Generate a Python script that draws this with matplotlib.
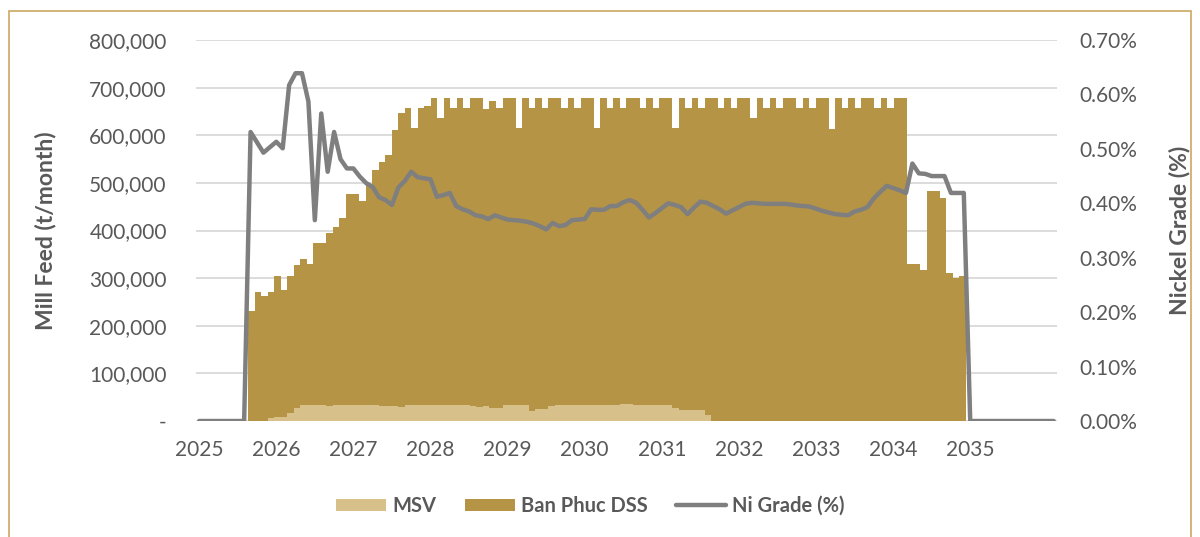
import numpy as np
import matplotlib.pyplot as plt
from matplotlib.patches import Rectangle
from matplotlib.ticker import FuncFormatter

plt.rcParams['font.family'] = ['Lato', 'DejaVu Sans']

# bars sit on a monthly category axis Jan 2025 - Dec 2035 (132 slots)
n_bar_slots = 132
bar_slots = np.arange(8, 118)  # Sep 2025 .. Oct 2034

# total mill feed per month, kt
total_kt = [231, 270, 262, 270, 305, 275, 305, 328, 340, 329, 373, 373, 394, 408,
            427, 476, 476, 461, 497, 527, 543, 559, 611, 646, 658, 615, 658, 662,
            678, 636,
            678, 658, 678, 658, 678, 678, 655, 672, 658, 678, 678, 615,
            678, 658, 678, 658, 678, 678, 658, 678, 658, 678, 678, 615,
            678, 658, 678, 658, 678, 678, 658, 678, 658, 678, 678, 615,
            678, 658, 678, 658, 678, 678, 658, 678, 658, 678, 678, 636,
            678, 658, 678, 658, 678, 678, 658, 678, 658, 678, 678, 613,
            678, 658, 678, 658, 678, 678, 658, 678, 658, 678, 678,
            329, 329, 317, 482, 482, 468, 310, 300, 305]

# MSV part of the feed, kt
msv_kt = [0, 0, 0, 7, 9, 9, 16, 27, 34, 34, 34, 34, 32, 34, 34, 34, 34, 34, 34, 34,
          32, 32, 32, 29, 34, 34, 34, 34, 34, 34, 34, 34, 34, 34, 31, 29, 31, 28, 28, 33,
          33, 33, 34, 20, 25, 25, 31, 34, 34, 34, 34, 34, 34, 34, 34, 34, 34, 35, 35, 34,
          34, 34, 34, 34, 34, 28, 23, 23, 23, 23, 13,
          0, 0, 0, 0, 0, 0, 0, 0, 0, 0, 0, 0, 0, 0, 0, 0, 0, 0, 0, 0,
          0, 0, 0, 0, 0, 0, 0, 0, 0, 0, 0, 0, 0, 0, 0, 0, 0, 0, 0]

# line sits on its own category axis Jan 2025 - Feb 2036 (134 points)
ni_grade = [0.0] * 8 + [
    0.531, 0.512, 0.493, 0.503, 0.513, 0.501, 0.617, 0.639, 0.639, 0.587,
    0.369, 0.565, 0.458, 0.531, 0.481, 0.464, 0.464, 0.449, 0.437, 0.430,
    0.411, 0.406, 0.397, 0.429, 0.441, 0.458, 0.448, 0.446, 0.444, 0.412,
    0.415, 0.419, 0.395, 0.389, 0.385, 0.378, 0.376, 0.371, 0.378, 0.374,
    0.370, 0.369, 0.368, 0.366, 0.363, 0.358, 0.352, 0.364, 0.358, 0.360,
    0.369, 0.370, 0.371, 0.389, 0.388, 0.388, 0.395, 0.395, 0.402, 0.406,
    0.401, 0.388, 0.374, 0.382, 0.391, 0.400, 0.397, 0.393, 0.380, 0.392,
    0.403, 0.401, 0.395, 0.389, 0.381, 0.387, 0.393, 0.399, 0.401, 0.400,
    0.399, 0.399, 0.399, 0.399, 0.398, 0.396, 0.395, 0.394, 0.390, 0.386,
    0.383, 0.380, 0.379, 0.378, 0.385, 0.388, 0.393, 0.409, 0.421, 0.432,
    0.428, 0.424, 0.419, 0.473, 0.455, 0.454, 0.450, 0.450, 0.450, 0.419,
    0.419, 0.419] + [0.0] * 14

year_labels = ['2025', '2026', '2027', '2028', '2029', '2030',
               '2031', '2032', '2033', '2034', '2035']
year_idx = [0, 12, 24, 36, 48, 60, 72, 84, 96, 108, 120]

total = np.array(total_kt) * 1000
msv = np.array(msv_kt) * 1000
dss = total - msv

c_msv = '#D8C08A'
c_dss = '#B59446'
c_line = '#7F7F7F'
c_text = '#595959'

fig = plt.figure(figsize=(12, 5.37), dpi=100)
rect = [0.1633, 0.216, 0.7175, 0.7095]
ax = fig.add_axes(rect)
ax2 = fig.add_axes(rect, frameon=False)

ax.bar(bar_slots + 0.5, msv, width=1.0, color=c_msv, label='MSV', linewidth=0)
ax.bar(bar_slots + 0.5, dss, width=1.0, bottom=msv, color=c_dss,
       label='Ban Phuc DSS', linewidth=0)
ax.set_xlim(0, n_bar_slots)
ax.set_ylim(0, 800000)
ax.set_yticks(np.arange(0, 800001, 100000))
ax.yaxis.set_major_formatter(FuncFormatter(lambda v, p: '-' if v == 0 else f'{v:,.0f}'))
ax.set_xticks([])
ax.grid(axis='y', color='#D9D9D9', linewidth=1.3)
ax.set_axisbelow(True)
for s in ax.spines.values():
    s.set_visible(False)
ax.tick_params(axis='y', length=0, pad=21, labelsize=15, labelcolor=c_text)
ax.set_ylabel('Mill Feed (t/month)', fontsize=16.5, fontweight='bold', color=c_text)
ax.yaxis.set_label_coords(-0.162, 0.5)

line_x = np.arange(len(ni_grade)) + 0.5
ax2.plot(line_x, ni_grade, color=c_line, linewidth=3.2, label='Ni Grade (%)',
         solid_joinstyle='round', solid_capstyle='round')
ax2.set_xlim(0, len(ni_grade))
ax2.set_ylim(0, 0.70)
ax2.patch.set_visible(False)
ax2.yaxis.tick_right()
ax2.yaxis.set_label_position('right')
ax2.set_yticks(np.arange(0, 0.701, 0.1))
ax2.yaxis.set_major_formatter(FuncFormatter(lambda v, p: f'{v:.2f}%'))
ax2.set_xticks(np.array(year_idx) + 0.5)
ax2.set_xticklabels(year_labels)
ax2.tick_params(axis='y', length=0, pad=16, labelsize=15, labelcolor=c_text)
ax2.tick_params(axis='x', length=0, pad=14, labelsize=15, labelcolor=c_text)
ax2.set_ylabel('Nickel Grade (%)', fontsize=16.5, fontweight='bold', color=c_text)
ax2.yaxis.set_label_coords(1.13, 0.5)

h1, l1 = ax.get_legend_handles_labels()
h2, l2 = ax2.get_legend_handles_labels()
leg = fig.legend(h1 + h2, l1 + l2, loc='center', bbox_to_anchor=(0.492, 0.058),
                 ncol=3, frameon=False, handlelength=2.5, handleheight=0.55,
                 handletextpad=0.3, columnspacing=1.4,
                 prop={'size': 14.5, 'weight': 'bold'})
for t in leg.get_texts():
    t.set_color(c_text)

# thin gold frame round the chart
fig.patches.append(Rectangle((0.0075, -0.05), 0.985, 0.05 + 0.9795, transform=fig.transFigure,
                             fill=False, edgecolor='#C9A862', linewidth=1.2))

fig.savefig('out.png', dpi=100)
